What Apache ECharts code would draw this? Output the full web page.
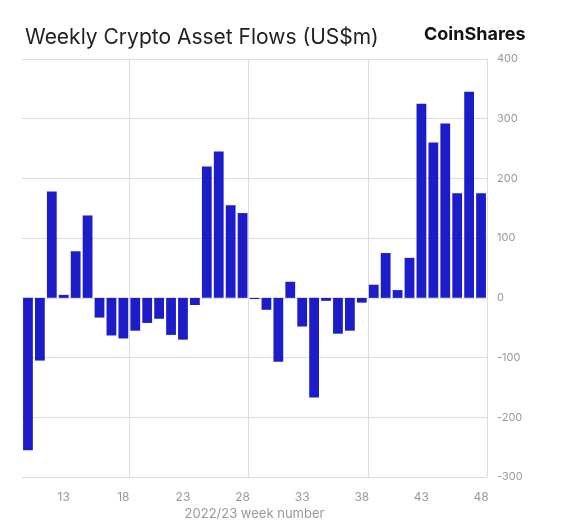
<!DOCTYPE html>
<html><head><meta charset="utf-8">
<script src="https://cdn.jsdelivr.net/npm/echarts@6/dist/echarts.min.js"></script>
<style>html,body{margin:0;padding:0;background:#fff}#c{width:568px;height:526px}</style>
</head><body><div id="c"></div>
<script>
const weeks = [10,11,12,13,14,15,16,17,18,19,20,21,22,23,24,25,26,27,28,29,30,31,32,33,34,35,36,37,38,39,40,41,42,43,44,45,46,47,48];
const flows = [-255,-105,178,5,78,138,-33,-63,-68,-55,-42,-35,-62,-70,-12,220,245,155,142,-2,-20,-107,27,-48,-167,-5,-60,-55,-8,22,75,13,67,325,260,292,175,345,175];
const yTicks = [-300,-200,-100,0,100,200,300,400];
const chart = echarts.init(document.getElementById('c'));
chart.setOption({
  animation:false,
  title:[{text:'Weekly Crypto Asset Flows (US$m)',left:20,top:22,textStyle:{fontFamily:'Inter',fontSize:21,fontWeight:'normal',color:'#222'}},
         {text:'CoinShares',left:419,top:21,textStyle:{fontFamily:'Inter',fontSize:18,fontWeight:'bold',color:'#111'}}],
  grid:{left:22,right:81,top:59,bottom:49},
  xAxis:{type:'category',data:weeks.map(String),
    name:'2022/23 week number',nameLocation:'middle',nameGap:20,
    nameTextStyle:{color:'#999',fontSize:13,fontFamily:'Inter'},
    axisLine:{show:false},axisTick:{show:false},
    axisLabel:{interval:(i,v)=>(+v)%5===3,color:'#999',fontSize:12,fontFamily:'Inter',margin:14},
    splitLine:{show:true,interval:(i)=>i%10===9,lineStyle:{color:'#ddd'}}},
  yAxis:{type:'value',position:'right',min:yTicks[0],max:yTicks[yTicks.length-1],interval:100,
    axisLine:{show:true,lineStyle:{color:'#ddd'}},
    axisLabel:{color:'#999',fontSize:11,fontFamily:'Inter',margin:10},
    splitLine:{lineStyle:{color:'#ddd'}}},
  series:[{type:'bar',data:flows,barWidth:'82%',itemStyle:{color:'#1c1cc9'}}]
});
</script></body></html>
